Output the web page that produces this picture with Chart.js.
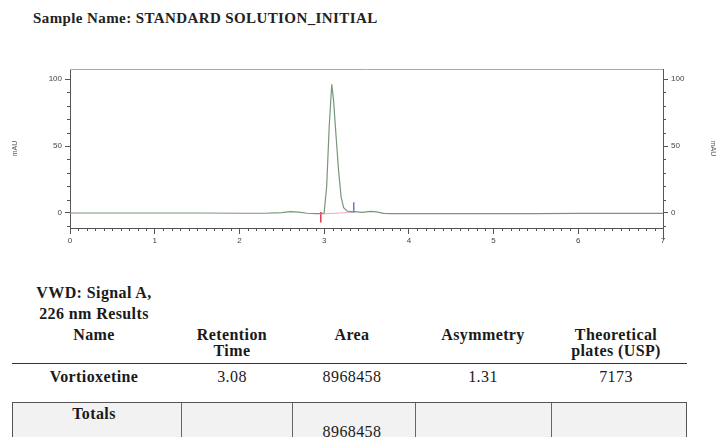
<!DOCTYPE html>
<html>
<head>
<meta charset="utf-8">
<script src="https://cdn.jsdelivr.net/npm/chart.js@4.4.1/dist/chart.umd.min.js"></script>
<style>
  html, body { margin: 0; padding: 0; background: #fff; }
  body { width: 717px; height: 437px; position: relative; overflow: hidden; font-family: "Liberation Serif", "Times New Roman", serif; color: #1a1a1a; }
  #wrap { position: absolute; left: 0; top: 0; width: 717px; height: 260px; }
  .t { position: absolute; white-space: nowrap; text-align: center; letter-spacing: 0.4px; }
  .b { font-weight: bold; }
  #title { position: absolute; left: 33px; top: 10px; font-size: 15px; line-height: 16px; letter-spacing: 0.4px; font-weight: bold; white-space: nowrap; color: #222; }
  #hline { position: absolute; left: 12px; top: 363px; width: 675px; height: 0; border-top: 1.5px solid #333; }
  #totals { position: absolute; left: 12px; top: 402px; width: 673px; height: 60px; border: 1.5px solid #555; background: #f2f2f2; }
  .sep { position: absolute; top: 0; bottom: 0; width: 0; border-left: 1.5px solid #666; }
</style>
</head>
<body>
<div id="title">Sample Name: STANDARD SOLUTION_INITIAL</div>
<div id="wrap"><canvas id="c"></canvas></div>
<div id="table"></div>
<script>
// Chromatogram trace (time in min, signal in mAU)
const traceTime = [0, 0.5, 1.0, 1.5, 2.0, 2.3, 2.5, 2.6, 2.7, 2.8, 2.9, 2.96, 3.0, 3.03, 3.06, 3.09, 3.11, 3.14, 3.17, 3.2, 3.23, 3.27, 3.32, 3.36, 3.45, 3.55, 3.62, 3.7, 3.8, 4.0, 4.5, 5.0, 5.5, 6.0, 6.5, 7.0];
const traceSignal = [0, 0, 0, 0, -0.2, -0.2, 0.3, 1.0, 0.7, -0.2, -0.4, -0.4, 0, 20, 65, 96, 85, 58, 32, 12, 4, 1.5, 1.0, 1.0, 0.5, 1.2, 0.8, -0.3, -0.5, -0.5, -0.4, -0.4, -0.4, -0.3, -0.3, -0.3];

// Integration marks around the main peak
const peakStart = 2.96;
const peakEnd = 3.35;
const startMark = [0.7, -7];
const endMark = [8, 0];
const integrationBase = [-0.8, 0.6];

// Axis ticks
const xTickLabels = [0, 1, 2, 3, 4, 5, 6, 7];
const yTickLabels = [0, 50, 100];

// Results table
const resultHeaders = [["Name"], ["Retention", "Time"], ["Area"], ["Asymmetry"], ["Theoretical", "plates (USP)"]];
const resultRow = ["Vortioxetine", "3.08", "8968458", "1.31", "7173"];
const totalArea = "8968458";

const colCenters = [94, 232, 352, 483, 616];
const table = document.getElementById('table');
function addText(txt, cx, cy, size, bold) {
  const d = document.createElement('div');
  d.className = 't' + (bold ? ' b' : '');
  d.style.fontSize = size + 'px';
  d.style.lineHeight = size + 'px';
  d.textContent = txt;
  d.style.left = (cx - 100) + 'px';
  d.style.width = '200px';
  d.style.top = (cy - size / 2) + 'px';
  table.appendChild(d);
}
const fs = 16;
addText('VWD: Signal A,', colCenters[0], 293, fs, true);
addText('226 nm Results', colCenters[0], 314, fs, true);
resultHeaders.forEach((lines, i) => {
  lines.forEach((ln, j) => addText(ln, colCenters[i], 335 + j * 16, fs, true));
});
const hl = document.createElement('div'); hl.id = 'hline'; table.appendChild(hl);
resultRow.forEach((v, i) => addText(v, colCenters[i], 377, fs, i === 0));
const box = document.createElement('div'); box.id = 'totals'; table.appendChild(box);
[168, 279, 402, 538].forEach(x => {
  const s = document.createElement('div'); s.className = 'sep'; s.style.left = x + 'px'; box.appendChild(s);
});
addText('Totals', colCenters[0], 414, fs, true);
addText(totalArea, colCenters[2], 432, fs, false);

const axisColor = '#555';
const tickFont = { family: 'Liberation Sans, Arial, sans-serif', size: 8 };

// Minor ticks, top frame line and axis extension
const frameTicks = {
  id: 'frameTicks',
  afterDraw(chart) {
    const { ctx, chartArea: a, scales } = chart;
    ctx.save();
    ctx.strokeStyle = '#aaa';
    ctx.lineWidth = 1;
    ctx.beginPath(); ctx.moveTo(a.left, a.top + 0.5); ctx.lineTo(a.right, a.top + 0.5); ctx.stroke();
    ctx.strokeStyle = axisColor;
    ctx.beginPath();
    for (let i = 1; i < 70; i++) {
      if (i % 10 === 0) continue;
      const px = Math.round(scales.x.getPixelForValue(i / 10)) + 0.5;
      ctx.moveTo(px, a.bottom); ctx.lineTo(px, a.bottom + 3);
    }
    for (let v = -10; v <= 100; v += 10) {
      if (v % 50 === 0) continue;
      const py = Math.round(scales.y.getPixelForValue(v)) + 0.5;
      ctx.moveTo(a.left - 3, py); ctx.lineTo(a.left, py);
      ctx.moveTo(a.right, py); ctx.lineTo(a.right + 3, py);
    }
    ctx.moveTo(a.right + 0.5, a.bottom); ctx.lineTo(a.right + 0.5, a.bottom + 12);
    ctx.stroke();
    ctx.restore();
  }
};

const yCommon = {
  type: 'linear', min: -11.2, max: 107.5,
  afterBuildTicks: s => { s.ticks = yTickLabels.map(v => ({ value: v })); },
  ticks: { font: tickFont, color: '#444', padding: 3 },
  grid: { drawOnChartArea: false, tickLength: 5, color: axisColor },
  border: { color: axisColor, width: 1 }
};

new Chart(document.getElementById('c'), {
  type: 'line',
  data: {
    datasets: [
      { data: traceTime.map((t, i) => ({ x: t, y: traceSignal[i] })), borderColor: '#76987a', borderWidth: 1.2, pointRadius: 0, tension: 0, yAxisID: 'y' },
      { data: [{ x: peakStart, y: integrationBase[0] }, { x: peakEnd, y: integrationBase[1] }], borderColor: '#f0a6c6', borderWidth: 1, pointRadius: 0, yAxisID: 'y' },
      { data: [{ x: peakStart, y: startMark[0] }, { x: peakStart, y: startMark[1] }], borderColor: '#e04050', borderWidth: 1, pointRadius: 0, yAxisID: 'y' },
      { data: [{ x: peakEnd, y: endMark[0] }, { x: peakEnd, y: endMark[1] }], borderColor: '#5050c8', borderWidth: 1.2, pointRadius: 0, yAxisID: 'y' }
    ]
  },
  options: {
    responsive: true, maintainAspectRatio: false, animation: false,
    layout: { padding: { top: 69, left: 0, right: 0, bottom: 0 } },
    plugins: { legend: { display: false }, tooltip: { enabled: false } },
    scales: {
      x: {
        type: 'linear', min: 0, max: 7,
        afterBuildTicks: s => { s.ticks = xTickLabels.map(v => ({ value: v })); },
        afterFit: s => { s.height = 32; },
        ticks: { font: tickFont, color: '#444', padding: 2, maxRotation: 0 },
        grid: { drawOnChartArea: false, tickLength: 6, color: axisColor },
        border: { color: axisColor, width: 1 }
      },
      y: Object.assign({}, yCommon, {
        position: 'left',
        afterFit: s => { s.width = 70; },
        title: { display: true, text: 'mAU', font: { family: 'Liberation Sans, Arial, sans-serif', size: 7 }, color: '#555', padding: { top: 11, bottom: 0 } }
      }),
      y2: Object.assign({}, yCommon, {
        position: 'right',
        afterFit: s => { s.width = 54; },
        title: { display: true, text: 'mAU', font: { family: 'Liberation Sans, Arial, sans-serif', size: 7 }, color: '#555', padding: { top: 0, bottom: 0 } }
      })
    }
  },
  plugins: [frameTicks]
});
</script>
</body>
</html>
